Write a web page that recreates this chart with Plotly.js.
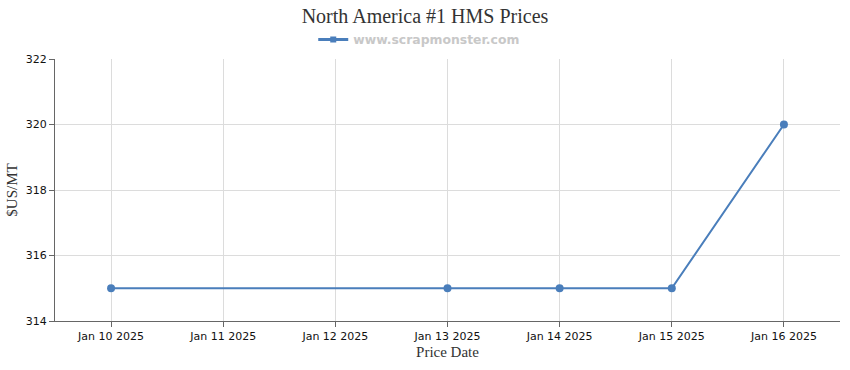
<!DOCTYPE html>
<html>
<head>
<meta charset="utf-8">
<script src="https://cdn.plot.ly/plotly-3.0.1.min.js"></script>
<style>html,body{margin:0;padding:0;background:#fff;}#chart{width:850px;height:370px;}</style>
</head>
<body>
<div id="chart"></div>
<script>
const dates = ["2025-01-10", "2025-01-13", "2025-01-14", "2025-01-15", "2025-01-16"];
const prices = [315, 315, 315, 315, 320];
const seriesName = "www.scrapmonster.com";
const chartTitle = "North America #1 HMS Prices";
const xTitle = "Price Date";
const yTitle = "$US/MT";
const lineColor = "#4a7ebb";

const trace = {
  x: dates, y: prices, name: seriesName, type: "scatter", mode: "lines+markers",
  line: {color: lineColor, width: 2},
  marker: {color: lineColor, size: 8, symbol: "circle"},
  showlegend: false
};
const legendTrace = {
  x: [null], y: [null], name: seriesName, type: "scatter", mode: "lines+markers",
  line: {color: lineColor, width: 3},
  marker: {color: lineColor, size: 6, symbol: "square"},
  showlegend: true, hoverinfo: "skip"
};

const layout = {
  width: 850, height: 370,
  margin: {l: 55, r: 10, t: 59, b: 49},
  paper_bgcolor: "#fff", plot_bgcolor: "#fff",
  title: {text: chartTitle, x: 0.5, xanchor: "center", y: 0.975, yanchor: "top",
    font: {family: "Liberation Serif, serif", size: 20, color: "#333"}},
  showlegend: true,
  legend: {orientation: "h", x: 0.464, xanchor: "center", y: 1.073, yanchor: "middle",
    font: {family: "DejaVu Sans, sans-serif", size: 12.4, color: "#c8c8c8", weight: "bold"},
    itemwidth: 30},
  xaxis: {
    type: "date", range: ["2025-01-09 12:00", "2025-01-16 12:00"],
    dtick: 86400000, tick0: "2025-01-10", tickformat: "%b %d %Y",
    showgrid: true, gridcolor: "#dcdcdc", zeroline: false,
    showline: true, linecolor: "#666", linewidth: 1,
    ticks: "outside", ticklen: 5, tickcolor: "#666",
    tickfont: {family: "DejaVu Sans, sans-serif", size: 11, color: "#111"},
    title: {text: xTitle, font: {family: "Liberation Serif, serif", size: 15, color: "#333"}, standoff: 4}
  },
  yaxis: {
    range: [314, 322], dtick: 2,
    showgrid: true, gridcolor: "#dcdcdc", zeroline: false,
    showline: true, linecolor: "#666", linewidth: 1,
    ticks: "outside", ticklen: 5, tickcolor: "#666",
    tickfont: {family: "DejaVu Sans, sans-serif", size: 11, color: "#111"},
    title: {text: yTitle, font: {family: "Liberation Serif, serif", size: 15, color: "#333"}, standoff: 4}
  }
};

Plotly.newPlot("chart", [trace, legendTrace], layout, {displayModeBar: false});
</script>
</body>
</html>
